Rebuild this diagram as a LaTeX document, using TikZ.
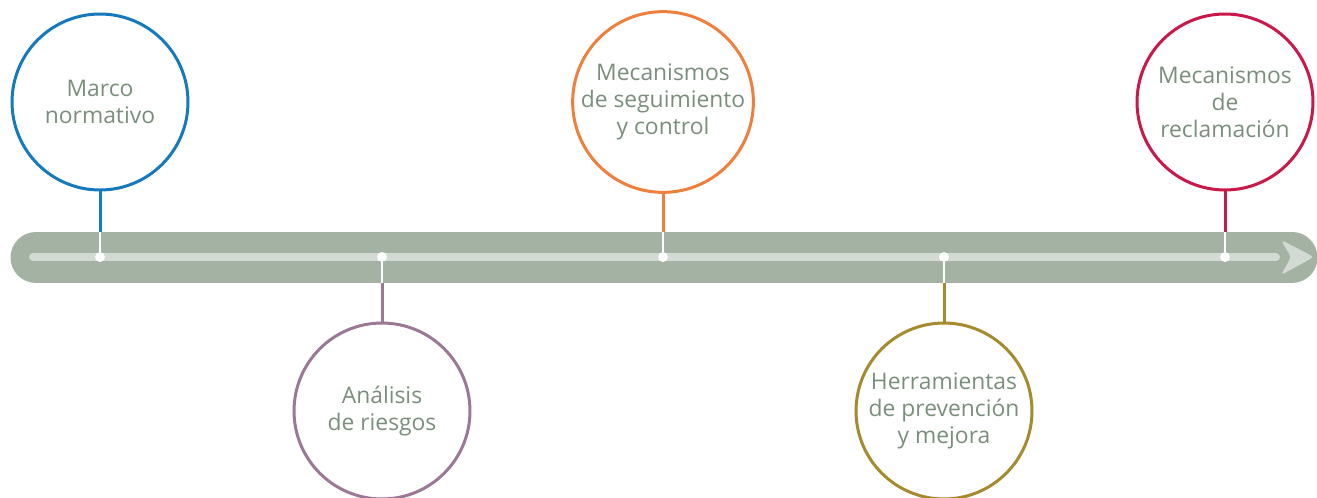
\documentclass[tikz,border=0pt]{standalone}
\usepackage{fontspec}
\setmainfont{Open Sans}
\usepackage{tikz}

\definecolor{bandgreen}{HTML}{A3B2A3}
\definecolor{lightline}{HTML}{D2DAD3}
\definecolor{textgreen}{HTML}{7A8E7C}
\definecolor{cblue}{HTML}{1479BD}
\definecolor{cpurple}{HTML}{9A7896}
\definecolor{corange}{HTML}{EE7F3C}
\definecolor{colive}{HTML}{A58A2E}
\definecolor{cred}{HTML}{C9184A}

\tikzset{
  stage/.style={circle, draw=#1, line width=0.06cm, minimum size=3.52cm, inner sep=0pt,
    align=center, text=textgreen, font={\fontsize{13}{15.3}\selectfont}},
  dot/.style={circle, fill=white, minimum size=0.2cm, inner sep=0pt},
  stem/.style={draw=#1, line width=0.06cm},
  whitestem/.style={draw=white, line width=0.05cm}
}

\begin{document}
\begin{tikzpicture}[x=0.02cm, y=-0.02cm]
        \useasboundingbox (0,0) rectangle (1317,497);

        % band and inner line
        \draw[bandgreen, line width=1.02cm, line cap=round] (36,257.5) -- (1292,257.5);
        \draw[lightline, line width=0.16cm, line cap=round] (33,257) -- (1276,257);
        \fill[lightline, rounded corners=2] (1281,240) -- (1314,257) -- (1281,275) -- (1291,257) -- cycle;


        \node[stage=cblue] (marco) at (100,102) {Marco\\normativo};
        \node[stage=cpurple] (riesgos) at (382,411) {Análisis\\de riesgos};
        \node[stage=corange] (seguimiento) at (663,102) {Mecanismos\\de seguimiento\\y control};
        \node[stage=colive] (prevencion) at (944,411) {Herramientas\\de prevención\\y mejora};
        \node[stage=cred] (reclamacion) at (1225,102) {Mecanismos\\de\\reclamación};


        \coordinate (b1) at (100,232);
        \coordinate (b2) at (382,283);
        \coordinate (b3) at (663,232);
        \coordinate (b4) at (944,283);
        \coordinate (b5) at (1225,232);

        \node[dot] (d1) at (100,257) {};
        \node[dot] (d2) at (382,257) {};
        \node[dot] (d3) at (663,257) {};
        \node[dot] (d4) at (944,257) {};
        \node[dot] (d5) at (1225,257) {};

        
        \draw[stem=cblue] (marco) -- (b1);
        \draw[stem=cpurple] (riesgos) -- (b2);
        \draw[stem=corange] (seguimiento) -- (b3);
        \draw[stem=colive] (prevencion) -- (b4);
        \draw[stem=cred] (reclamacion) -- (b5);

        \draw[whitestem] (b1) -- (d1);
        \draw[whitestem] (b2) -- (d2);
        \draw[whitestem] (b3) -- (d3);
        \draw[whitestem] (b4) -- (d4);
        \draw[whitestem] (b5) -- (d5);
    \end{tikzpicture}
\end{document}
